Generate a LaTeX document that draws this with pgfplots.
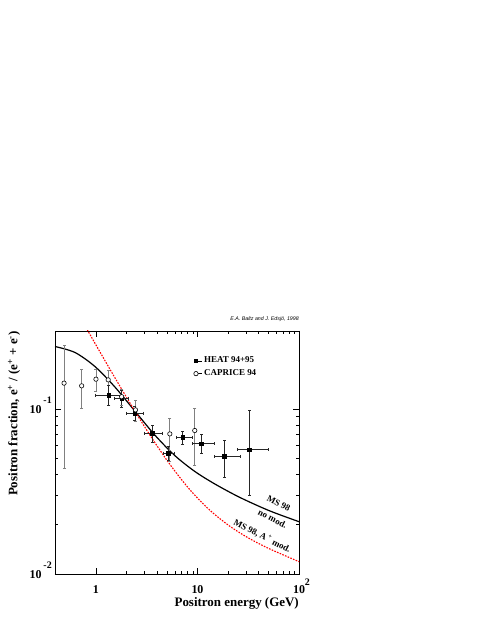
\documentclass[border=0pt]{standalone}
\usepackage{fontspec}
\setmainfont{Liberation Serif}
\setsansfont{Liberation Sans}
\usepackage{pgfplots}
\pgfplotsset{compat=1.18}
\newcommand{\supx}[2]{\raisebox{#1}{\fontsize{10}{10}\selectfont #2}}
\begin{document}
\begin{tikzpicture}
\useasboundingbox (0,0) rectangle (479bp,619bp);
\begin{axis}[
  name=ax,
  at={(55bp,45bp)}, anchor=south west,
  scale only axis, width=244bp, height=243bp,
  xmode=log, ymode=log,
  xmin=0.395, xmax=100, ymin=0.01, ymax=0.298,
  xtick={1,10,100},
  xticklabels={1,10,10\rlap{\supx{8bp}{2}}},
  ytick={0.01,0.1},
  yticklabels={10\kern2bp\supx{10.5bp}{-2},10\kern2bp\supx{10bp}{-1}},
  x tick label style={font=\fontsize{12}{14}\selectfont\bfseries, anchor=base, yshift=-19.3bp, inner sep=0pt},
  y tick label style={font=\fontsize{12}{14}\selectfont\bfseries, anchor=base east, yshift=-4.7bp, xshift=-3bp, inner sep=0pt},
  xlabel={Positron energy (GeV)},
  ylabel={Positron fraction, e\textsuperscript{+} / (e\textsuperscript{+} + e\textsuperscript{-})},
  every axis x label/.style={at={(axis description cs:1,0)}, anchor=base east, yshift=-32.7bp, inner sep=0pt, font=\fontsize{13}{15}\selectfont\bfseries},
  every axis y label/.style={at={(axis description cs:-0.1537,1)}, rotate=90, anchor=base east, inner sep=0pt, font=\fontsize{13}{15}\selectfont\bfseries},
  major tick length=6bp, minor tick length=3bp,
  tick style={black, line width=0.6bp},
  axis line style={line width=0.9bp},
  legend style={at={(axis description cs:0.568,0.90)}, anchor=north west, draw=none, fill=none,
    font=\fontsize{9}{10}\selectfont\bfseries, row sep=2.5bp, inner sep=0pt,
    nodes={inner sep=1.5bp}},
  legend cell align=left,
  legend image code/.code={\path (0bp,0bp) -- (6.5bp,0bp); \draw[#1] plot coordinates {(0bp,0bp)};},
]
% model curves
\addplot[black, line width=1.2bp, smooth, forget plot] coordinates {
(0.3953,0.2399) (0.6216,0.2207) (0.9776,0.1814) (1.538,0.1362) (2.418,0.09738)
(3.804,0.06963) (5.982,0.05229) (9.408,0.04191) (14.80,0.03519) (26.06,0.02918)
(51.39,0.02416) (101.4,0.02071)};
\addplot[red, line width=1.1bp, dash pattern=on 1.6bp off 1.3bp, smooth, forget plot] coordinates {
(0.6961,0.3624) (0.8212,0.3030) (1.373,0.1747) (2.159,0.1091) (3.396,0.06973)
(5.342,0.04629) (8.401,0.03249) (13.21,0.02440) (20.78,0.01951) (32.68,0.01638)
(51.39,0.01420) (101.4,0.01184)};
% CAPRICE 94 error bars
\addplot[gray, line width=0.8bp, mark=-, mark size=1.5bp, mark options={solid, gray, line width=0.8bp}, unbounded coords=jump, forget plot] table {
x y
0.485 0.0438
0.485 0.242
nan nan
0.723 0.1014
0.723 0.1748
nan nan
1.0 0.129
1.0 0.1748
nan nan
1.32 0.122
1.32 0.171
nan nan
1.79 0.105
1.79 0.131
nan nan
2.45 0.0841
2.45 0.1127
nan nan
5.34 0.0481
5.34 0.0882
nan nan
9.4 0.0455
9.4 0.1004
};
% HEAT 94+95 vertical error bars
\addplot[black!85, line width=0.8bp, mark=-, mark size=1.5bp, mark options={solid, line width=0.8bp}, unbounded coords=jump, forget plot] table {
x y
1.34 0.1057
1.34 0.140
nan nan
1.79 0.1028
1.79 0.1297
nan nan
2.42 0.0850
2.42 0.1040
nan nan
3.58 0.0625
3.58 0.0800
nan nan
5.14 0.0486
5.14 0.0593
nan nan
7.12 0.0613
7.12 0.0738
nan nan
10.9 0.0537
10.9 0.0699
nan nan
18.4 0.0388
18.4 0.0648
nan nan
32.2 0.0299
32.2 0.0985
};
% HEAT 94+95 horizontal error bars
\addplot[black!85, line width=0.8bp, mark=|, mark size=1.5bp, mark options={solid, line width=0.8bp}, unbounded coords=jump, forget plot] table {
x y
0.99 0.1216
1.79 0.1216
nan nan
1.51 0.1166
2.11 0.1166
nan nan
2.0 0.0946
2.92 0.0946
nan nan
2.98 0.0715
4.49 0.0715
nan nan
4.59 0.0541
5.89 0.0541
nan nan
6.22 0.0676
8.92 0.0676
nan nan
8.92 0.0616
14.8 0.0616
nan nan
14.8 0.0518
26.3 0.0518
nan nan
25.0 0.0569
49.7 0.0569
};
% markers
\addplot[only marks, mark=square*, mark size=1.7bp, mark options={black, fill=black}] table {
x y
1.34 0.1216
1.79 0.1166
2.42 0.0946
3.58 0.0715
5.14 0.0541
7.12 0.0676
10.9 0.0616
18.4 0.0518
32.2 0.0569
};
\addlegendentry{HEAT 94+95}
\addplot[only marks, mark=*, mark size=2.2bp, mark options={black, fill=white, line width=0.6bp}] table {
x y
0.485 0.1438
0.723 0.1385
1.0 0.152
1.32 0.1506
1.79 0.119
2.45 0.099
5.34 0.0708
9.4 0.0742
};
\addlegendentry{CAPRICE 94}
\node[rotate=-27, font=\fontsize{9}{10}\selectfont\bfseries, inner sep=0pt] at (axis cs:63,0.0267) {MS 98};
\node[rotate=-27, font=\fontsize{9}{10}\selectfont\bfseries, inner sep=0pt] at (axis cs:55,0.0216) {no mod.};
\node[rotate=-27, font=\fontsize{9}{10}\selectfont\bfseries, inner sep=0pt] at (axis cs:43.5,0.0170) {MS 98, A\,\textsuperscript{+} mod.};
\end{axis}
\node[anchor=base east, font=\fontsize{5.3}{6}\selectfont\sffamily\itshape, inner sep=0pt] at ([yshift=10.5bp]ax.north east) {E.A. Baltz and J. Edsjö, 1998};
\end{tikzpicture}
\end{document}
